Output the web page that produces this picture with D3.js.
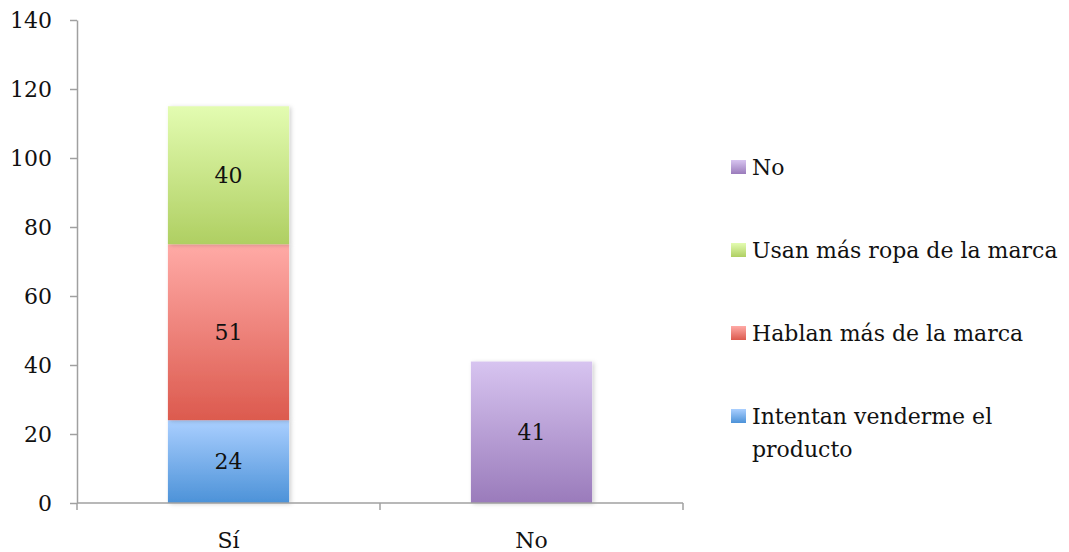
<!DOCTYPE html>
<html><head><meta charset="utf-8">
<script src="https://cdn.jsdelivr.net/npm/d3@7"></script>
<style>body{margin:0;background:#fff}svg{display:block}text{font-family:"DejaVu Serif",serif;fill:#111}</style>
</head><body><svg id="c" width="1069" height="552"></svg>
<script>
const categories = ["Sí", "No"];
const seriesNames = ["Intentan venderme el producto", "Hablan más de la marca", "Usan más ropa de la marca", "No"];
const intentan = [24, 0];
const hablan = [51, 0];
const usan = [40, 0];
const noVals = [0, 41];
const yTicks = [0, 20, 40, 60, 80, 100, 120, 140];
const colors = [["#aacfff", "#4c92d8"], ["#ffaaa6", "#dc5a4e"], ["#e3fcb1", "#afcf62"], ["#d7c4f0", "#9a7bbb"]];

const svg = d3.select("#c");
const fs = 22;
const x0 = 77, x1 = 683, yTop = 20, yBot = 503;
const x = d3.scaleBand().domain(categories).range([x0, x1]).paddingInner(0.6).paddingOuter(0.3);
const y = d3.scaleLinear().domain([0, 140]).range([yBot, yTop]);

const defs = svg.append("defs");
colors.forEach((c, i) => {
  const g = defs.append("linearGradient").attr("id", "g" + i).attr("x1", 0).attr("y1", 0).attr("x2", 0).attr("y2", 1);
  g.append("stop").attr("offset", "0%").attr("stop-color", c[0]);
  g.append("stop").attr("offset", "100%").attr("stop-color", c[1]);
});
const f = defs.append("filter").attr("id", "sh").attr("x", "-10%").attr("y", "-10%").attr("width", "130%").attr("height", "130%");
f.append("feDropShadow").attr("dx", 2).attr("dy", 1).attr("stdDeviation", 2).attr("flood-color", "#000").attr("flood-opacity", 0.18);

// axes
const ya = svg.append("g").attr("transform", `translate(${x0},0)`)
  .call(d3.axisLeft(y).tickValues(yTicks).tickSize(7).tickPadding(18).tickSizeOuter(0));
ya.select(".domain").attr("stroke", "#a0a0a0").attr("stroke-width", 1.5);
ya.selectAll(".tick line").attr("stroke", "#a0a0a0").attr("stroke-width", 1.5);
ya.selectAll("text").attr("font-size", fs).attr("font-family", "DejaVu Serif").attr("fill", "#111");

const data = [intentan, hablan, usan, noVals];
const stacked = d3.stack().keys([0, 1, 2, 3]).value((d, k) => data[k][d])(categories.map((c, i) => i));

const bars = svg.append("g");
stacked.forEach((layer, k) => {
  layer.forEach((seg, i) => {
    const v = seg[1] - seg[0];
    if (v <= 0) return;
    bars.append("rect").attr("x", x(categories[i])).attr("width", x.bandwidth())
      .attr("y", y(seg[1])).attr("height", y(seg[0]) - y(seg[1]))
      .attr("fill", `url(#g${k})`).attr("filter", "url(#sh)");
  });
});
stacked.forEach((layer, k) => {
  layer.forEach((seg, i) => {
    const v = seg[1] - seg[0];
    if (v <= 0) return;
    svg.append("text").attr("x", x(categories[i]) + x.bandwidth() / 2).attr("y", y((seg[0] + seg[1]) / 2))
      .attr("text-anchor", "middle").attr("dominant-baseline", "central").attr("font-size", fs).text(v);
  });
});

// x axis
const xa = svg.append("g");
xa.append("line").attr("x1", x0).attr("x2", x1).attr("y1", yBot).attr("y2", yBot).attr("stroke", "#a0a0a0").attr("stroke-width", 1.5);
const bw = (x1 - x0) / categories.length;
d3.range(categories.length + 1).forEach(i => {
  xa.append("line").attr("x1", x0 + i * bw).attr("x2", x0 + i * bw).attr("y1", yBot).attr("y2", yBot + 7).attr("stroke", "#a0a0a0").attr("stroke-width", 1.5);
});
categories.forEach(c => {
  xa.append("text").attr("x", x(c) + x.bandwidth() / 2).attr("y", 540).attr("text-anchor", "middle")
    .attr("dominant-baseline", "central").attr("font-size", fs).text(c);
});

// legend
const legendRows = [
  {k: 3, lines: ["No"], cy: 167},
  {k: 2, lines: ["Usan más ropa de la marca"], cy: 250},
  {k: 1, lines: ["Hablan más de la marca"], cy: 333},
  {k: 0, lines: ["Intentan venderme el", "producto"], cy: 416}
];
legendRows.forEach(r => {
  svg.append("rect").attr("x", 731).attr("y", r.cy - 7).attr("width", 15).attr("height", 14).attr("fill", `url(#g${r.k})`);
  r.lines.forEach((t, j) => {
    svg.append("text").attr("x", 752).attr("y", r.cy + j * 33).attr("dominant-baseline", "central").attr("font-size", fs).text(t);
  });
});
// name legend texts from seriesNames (check)
</script></body></html>
